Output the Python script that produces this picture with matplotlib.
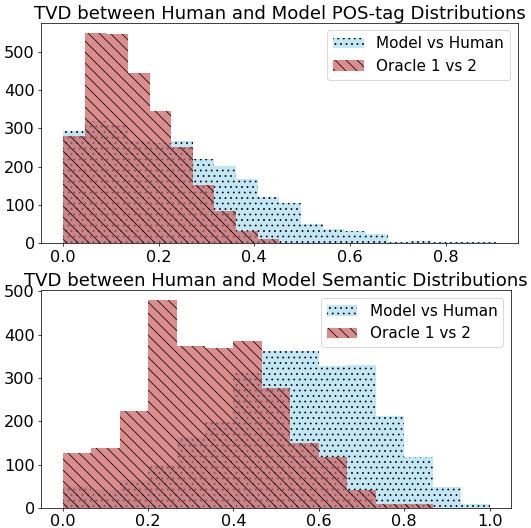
import numpy as np
import matplotlib
matplotlib.use("Agg")
import matplotlib.pyplot as plt

# ---- data ----
pos_edges = np.linspace(0.0, 0.905, 21)
pos_model_vs_human = [292, 318, 309, 266, 261, 266, 219, 202, 169, 122,
                      104, 51, 38, 32, 23, 4, 7, 3, 3, 4]
pos_oracle = [279, 548, 545, 444, 345, 251, 152, 83, 31, 12]

sem_edges = np.linspace(0.0, 1.0, 16)
sem_model_vs_human = [51, 42, 65, 100, 164, 198, 311, 363, 362, 327,
                      330, 212, 118, 49, 10]
sem_oracle = [127, 139, 224, 479, 373, 369, 385, 277, 150, 118, 41, 10, 10]

titles = ["TVD between Human and Model POS-tag Distributions",
          "TVD between Human and Model Semantic Distributions"]
labels = ["Model vs Human", "Oracle 1 vs 2"]

plt.rcParams["hatch.linewidth"] = 0.8

DPI = 66.4
fig = plt.figure(figsize=(531 / DPI, 528 / DPI), dpi=DPI)

ax1 = fig.add_axes([41.3 / 531, 1 - 243.3 / 528, (517.5 - 41.3) / 531, (243.3 - 22.7) / 528])
ax2 = fig.add_axes([41.3 / 531, 1 - 508 / 528, (511 - 41.3) / 531, (508 - 290) / 528])


def draw(ax, edges, mvh, orc, title):
    e_m = edges[:len(mvh) + 1]
    e_o = edges[:len(orc) + 1]
    ax.hist(e_m[:-1], bins=e_m, weights=mvh, color="skyblue", alpha=0.5,
            hatch="..", label=labels[0])
    ax.hist(e_o[:-1], bins=e_o, weights=orc, color="indianred", alpha=0.7,
            hatch="\\\\", label=labels[1])
    ax.set_title(title, fontsize=19.6, pad=4)
    ax.tick_params(labelsize=17.5)
    ax.legend(fontsize=16.5, loc="upper right")


draw(ax1, pos_edges, pos_model_vs_human, pos_oracle, titles[0])
draw(ax2, sem_edges, sem_model_vs_human, sem_oracle, titles[1])

fig.savefig("out.png", dpi=DPI)
